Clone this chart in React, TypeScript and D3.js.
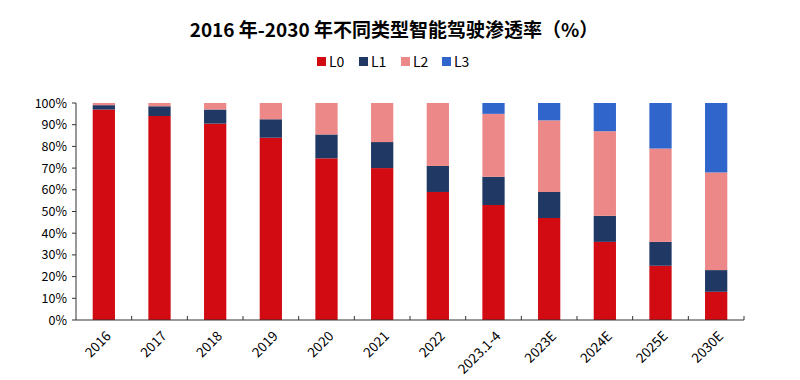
import React from "react";
import * as d3 from "d3";

const categories = ["2016", "2017", "2018", "2019", "2020", "2021", "2022", "2023.1-4", "2023E", "2024E", "2025E", "2030E"];
const seriesNames = ["L0", "L1", "L2", "L3"];
const L0 = [97, 94, 90.5, 84, 74.5, 70, 59, 53, 47, 36, 25, 13];
const L1 = [2, 4.5, 6.5, 8.5, 11, 12, 12, 13, 12, 12, 11, 10];
const L2 = [1, 1.5, 3, 7.5, 14.5, 18, 29, 29, 33, 39, 43, 45];
const L3 = [0, 0, 0, 0, 0, 0, 0, 5, 8, 13, 21, 32];
const colors = ["#D20A11", "#1F3864", "#EC8888", "#3066CC"];
const yTicks = [0, 10, 20, 30, 40, 50, 60, 70, 80, 90, 100];

const W = 800, H = 380;
const margin = { left: 76, right: 56, top: 103, bottom: 60 };
const FONT = "'Noto Sans CJK SC', 'Noto Sans', sans-serif";

export default function App() {
  const rows = categories.map((c, i) => ({ cat: c, L0: L0[i], L1: L1[i], L2: L2[i], L3: L3[i] }));
  const stack = d3.stack<any>().keys(seriesNames)(rows);
  const x = d3.scaleBand().domain(categories).range([margin.left, W - margin.right]).paddingInner(0.6).paddingOuter(0.3);
  const xb = d3.scaleBand().domain(categories).range([margin.left, W - margin.right]);
  const y = d3.scaleLinear().domain([0, 100]).range([H - margin.bottom, margin.top]);
  const y0 = y(0);
  const legendX = [317, 359, 401, 442];
  return (
    <svg width={W} height={H} style={{ position: "absolute", left: 0, top: 0, background: "#fff" }} fontFamily={FONT}>
      <rect x={0} y={0} width={W} height={H} fill="#fff" />
      <text x={394} y={37} textAnchor="middle" fontSize={19} fontWeight="bold" fill="#000">
        2016 年-2030 年不同类型智能驾驶渗透率（%）
      </text>
      {seriesNames.map((s, i) => (
        <g key={s}>
          <rect x={legendX[i]} y={57} width={9} height={9} fill={colors[i]} />
          <text x={legendX[i] + 12} y={67} fontSize={14} fill="#000">{s}</text>
        </g>
      ))}
      {stack.map((layer, li) => (
        <g key={li} fill={colors[li]}>
          {layer.map((d, i) => {
            const h = y(d[0]) - y(d[1]);
            if (h <= 0) return null;
            return <rect key={i} x={x(categories[i])} y={y(d[1])} width={x.bandwidth()} height={h} />;
          })}
        </g>
      ))}
      {yTicks.map((t) => (
        <g key={t}>
          <line x1={margin.left - 4} x2={margin.left} y1={y(t)} y2={y(t)} stroke="#333" />
          <text x={67} y={y(t) + 4.5} textAnchor="end" fontSize={12.5} fill="#000">{t}%</text>
        </g>
      ))}
      <line x1={margin.left} x2={margin.left} y1={y(100)} y2={y0} stroke="#333" />
      <line x1={margin.left} x2={W - margin.right} y1={y0} y2={y0} stroke="#333" />
      {categories.map((c, i) => (
        <line key={"t" + i} x1={(xb(c) as number) + xb.bandwidth()} x2={(xb(c) as number) + xb.bandwidth()} y1={y0 - 4} y2={y0} stroke="#333" />
      ))}
      {categories.map((c) => {
        const cx = (xb(c) as number) + xb.bandwidth() / 2 + 8;
        const cy = y0 + 17;
        return (
          <text key={c} x={cx} y={cy} transform={`rotate(-45 ${cx} ${cy})`} textAnchor="end" fontSize={13.5} fill="#000">{c}</text>
        );
      })}
    </svg>
  );
}
